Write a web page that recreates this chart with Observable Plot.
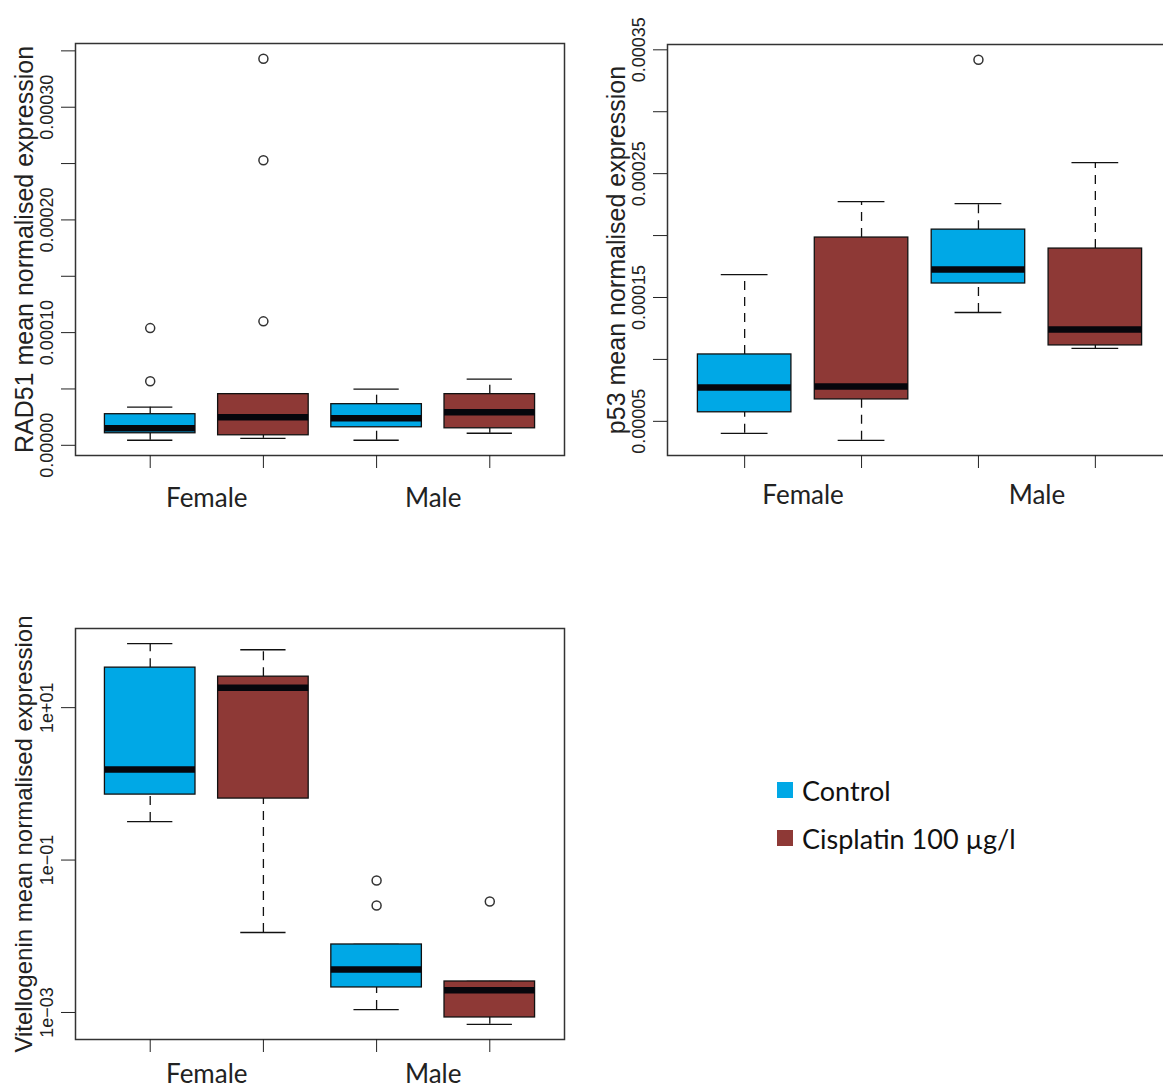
<!DOCTYPE html>
<html><head><meta charset="utf-8">
<script src="https://cdn.jsdelivr.net/npm/d3@7"></script>
<script src="https://cdn.jsdelivr.net/npm/@observablehq/plot@0.6"></script>
<style>
html,body{margin:0;padding:0;background:#fff;}
#page{position:relative;width:1163px;height:1091px;overflow:hidden;background:#fff;}
.panel{position:absolute;}
.panel svg{max-width:none !important;overflow:visible;}
.legend-item{position:absolute;left:777px;display:flex;align-items:center;height:48px;font-family:Lato,sans-serif;font-size:27px;color:#111;white-space:nowrap;}
.sw{width:16px;height:16px;margin-right:9px;}
</style></head>
<body><div id="page">
<div class="panel" id="p1" style="left:0;top:0"></div>
<div class="panel" id="p2" style="left:590px;top:0"></div>
<div class="panel" id="p3" style="left:0;top:585px"></div>
<div id="legend"></div>
</div>
<script>
// ---- categories ----
const sexes = ["Female", "Male"];
const treatments = ["Control", "Cisplatin 100 µg/l"];
const treatColors = ["#00A8E6", "#8E3936"];
// box order: Female-Control, Female-Cisplatin, Male-Control, Male-Cisplatin

// ---- RAD51 ----
const rad51Min = [0.0000045, 0.0000062, 0.0000045, 0.0000107];
const rad51Q1  = [0.0000107, 0.0000089, 0.0000160, 0.0000151];
const rad51Med = [0.0000151, 0.0000249, 0.0000240, 0.0000294];
const rad51Q3  = [0.0000276, 0.0000454, 0.0000365, 0.0000454];
const rad51Max = [0.0000338, 0.0000454, 0.0000498, 0.0000587];
const rad51Out = [[0.0000569, 0.000104], [0.000110, 0.000253, 0.000343], [], []];
const rad51Ticks = [0, 0.00005, 0.0001, 0.00015, 0.0002, 0.00025, 0.0003, 0.00035];
const rad51TickLabels = ["0.00000", "", "0.00010", "", "0.00020", "", "0.00030", ""];

// ---- p53 ----
const p53Min = [0.0000403, 0.0000347, 0.0001379, 0.0001089];
const p53Q1  = [0.0000573, 0.0000677, 0.0001613, 0.0001113];
const p53Med = [0.0000774, 0.0000782, 0.0001726, 0.0001242];
const p53Q3  = [0.0001040, 0.0001984, 0.0002048, 0.0001895];
const p53Max = [0.0001685, 0.0002274, 0.0002258, 0.0002589];
const p53Out = [[], [], [0.000342], []];
const p53Ticks = [0.00005, 0.0001, 0.00015, 0.0002, 0.00025, 0.0003, 0.00035];
const p53TickLabels = ["0.00005", "", "0.00015", "", "0.00025", "", "0.00035"];

// ---- Vitellogenin ----
const vtgMin = [0.32, 0.0112, 0.00109, 0.00070];
const vtgQ1  = [0.723, 0.641, 0.00213, 0.00086];
const vtgMed = [1.54, 18.3, 0.00366, 0.00195];
const vtgQ3  = [33.5, 25.5, 0.0078, 0.00255];
const vtgMax = [69.0, 57.5, 0.0078, 0.00255];
const vtgOut = [[], [], [0.0253, 0.0538], [0.0286]];
const vtgTicks = [10, 0.1, 0.001];
const vtgTickLabels = ["1e+01", "1e\u221201", "1e\u221203"];

function rDomain(values, log) {
  const v = log ? values.map(Math.log10) : values;
  const [lo, hi] = d3.extent(v);
  const pad = 0.04 * (hi - lo);
  const d = [lo - pad, hi + pad];
  return log ? d.map(x => Math.pow(10, x)) : d;
}

function panel(el, cfg) {
  const rows = cfg.min.map((_, i) => ({
    pos: i + 1,
    sex: sexes[Math.floor(i / 2)],
    treat: treatments[i % 2],
    min: cfg.min[i], q1: cfg.q1[i], med: cfg.med[i], q3: cfg.q3[i], max: cfg.max[i]
  }));
  const outs = cfg.out.flatMap((arr, i) => arr.map(v => ({pos: i + 1, v})));
  const all = [...cfg.min, ...cfg.max, ...cfg.out.flat()];
  const log = cfg.yType === "log";
  const groupPos = sexes.map((s, k) => 2 * k + 1.5);
  const chart = Plot.plot({
    width: cfg.width, height: cfg.height,
    marginLeft: cfg.marginLeft, marginRight: cfg.marginRight,
    marginTop: cfg.marginTop, marginBottom: cfg.marginBottom,
    x: {domain: [0.34, 4.66]},
    y: {type: cfg.yType, domain: rDomain(all, log)},
    color: {domain: treatments, range: treatColors},
    style: {background: "#fff", color: "#222"},
    marks: [
      Plot.ruleX(rows, {x: "pos", y1: "q3", y2: "max", stroke: "#111", strokeWidth: 1.3, strokeDasharray: "9,7"}),
      Plot.ruleX(rows, {x: "pos", y1: "min", y2: "q1", stroke: "#111", strokeWidth: 1.3, strokeDasharray: "9,7"}),
      Plot.ruleY(rows, {y: "max", x1: d => d.pos - 0.2, x2: d => d.pos + 0.2, stroke: "#111", strokeWidth: 1.3}),
      Plot.ruleY(rows, {y: "min", x1: d => d.pos - 0.2, x2: d => d.pos + 0.2, stroke: "#111", strokeWidth: 1.3}),
      Plot.rect(rows, {x1: d => d.pos - 0.4, x2: d => d.pos + 0.4, y1: "q1", y2: "q3", fill: "treat", stroke: "#111", strokeWidth: 1.3}),
      Plot.ruleY(rows, {y: "med", x1: d => d.pos - 0.4, x2: d => d.pos + 0.4, stroke: "#06060c", strokeWidth: 6.5}),
      Plot.dot(outs, {x: "pos", y: "v", r: 4.5, stroke: "#333", strokeWidth: 1.5, fill: "none"}),
      Plot.frame({stroke: "#333", strokeWidth: 1.5}),
      Plot.axisY({ticks: cfg.ticks, tickSize: 14, tickRotate: -90, tickPadding: 9,
        tickFormat: d => cfg.tickLabels[cfg.ticks.indexOf(d)],
        fontSize: 18, fontFamily: "Liberation Sans, Arial, sans-serif", label: null}),
      Plot.axisX({ticks: rows.map(d => d.pos), tickSize: 13, tickFormat: () => "", label: null}),
      Plot.axisX({ticks: groupPos, tickSize: 0, tickPadding: cfg.groupPad,
        tickFormat: d => sexes[groupPos.indexOf(d)],
        fontSize: 26, fontFamily: "Lato, sans-serif", label: null, ariaLabel: "group label"}),
      Plot.text([cfg.title], {text: d => d, frameAnchor: "left", textAnchor: "middle", rotate: -90, dx: -51,
        fontSize: cfg.titleSize, fontFamily: "Liberation Sans, Arial, sans-serif", fill: "#222"})
    ]
  });
  // the group labels in the reference are slightly stretched vertically
  d3.select(chart).selectAll('g[aria-label="group label"] text').each(function() {
    const t = this.getAttribute("transform") || "";
    this.setAttribute("transform", t + " scale(1,1.2)");
  });
  document.getElementById(el).appendChild(chart);
}

panel("p1", {width: 590, height: 540, marginLeft: 75, marginRight: 26, marginTop: 43, marginBottom: 85,
  yType: "linear", min: rad51Min, q1: rad51Q1, med: rad51Med, q3: rad51Q3, max: rad51Max, out: rad51Out,
  ticks: rad51Ticks, tickLabels: rad51TickLabels, title: "RAD51 mean normalised expression", groupPad: 33, titleSize: 25});
panel("p2", {width: 600, height: 540, marginLeft: 77, marginRight: 18, marginTop: 44, marginBottom: 85,
  yType: "linear", min: p53Min, q1: p53Q1, med: p53Med, q3: p53Q3, max: p53Max, out: p53Out,
  ticks: p53Ticks, tickLabels: p53TickLabels, title: "p53 mean normalised expression", groupPad: 30, titleSize: 25});
panel("p3", {width: 590, height: 506, marginLeft: 75, marginRight: 26, marginTop: 43, marginBottom: 52,
  yType: "log", min: vtgMin, q1: vtgQ1, med: vtgMed, q3: vtgQ3, max: vtgMax, out: vtgOut,
  ticks: vtgTicks, tickLabels: vtgTickLabels, title: "Vitellogenin mean normalised expression", groupPad: 25, titleSize: 24});

// legend
const legend = document.getElementById("legend");
treatments.forEach((t, i) => {
  const item = document.createElement("div");
  item.className = "legend-item";
  item.style.top = (766 + i * 48) + "px";
  const sw = document.createElement("div");
  sw.className = "sw";
  sw.style.background = treatColors[i];
  const tx = document.createElement("span");
  tx.textContent = t;
  item.appendChild(sw); item.appendChild(tx);
  legend.appendChild(item);
});
</script>
</body></html>
